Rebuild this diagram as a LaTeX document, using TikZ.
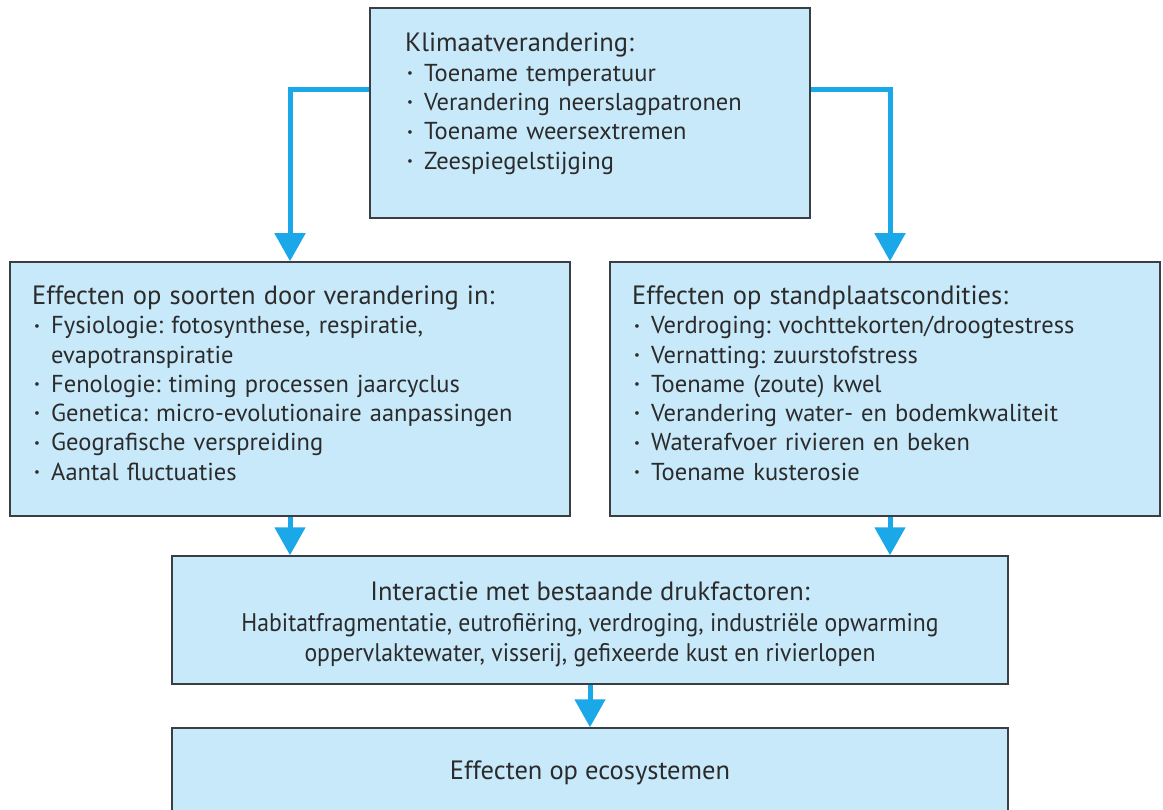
\documentclass[tikz,border=0pt]{standalone}
\usepackage{fontspec}
\setmainfont{PT Sans}
\usetikzlibrary{positioning, arrows.meta}
\definecolor{boxfill}{HTML}{C8E9FA}
\definecolor{boxline}{HTML}{3A3F44}
\definecolor{flow}{HTML}{1BA8E8}
\definecolor{ink}{HTML}{2B2B2B}
\frenchspacing
\newcommand{\kop}[1]{{\fontsize{26.5}{29}\selectfont #1}}
\newcommand{\bul}[1]{\par\noindent\makebox[19pt][l]{\hspace{2pt}\raisebox{0.3ex}{\fontsize{13}{13}\selectfont\textbullet}}#1}
\newcommand{\verv}[1]{\par\noindent\hspace*{19pt}#1}
\newcommand{\smal}[1]{\scalebox{0.93}[1]{#1}}
\tikzset{
box/.style={draw=boxline, line width=1.5pt, fill=boxfill, rectangle, inner sep=0pt}, % the light blue frames
txt/.style={anchor=north west, inner sep=0pt, align=left, text=ink, font=\fontsize{24.5}{29.3}\selectfont},
flow/.style={draw=flow, line width=5pt, -{Triangle[width=30pt,length=28pt]}}, % the blue arrows
}
\begin{document}
\begin{tikzpicture}[x=1pt, y=-1pt]
\useasboundingbox (0,0) rectangle (1163,810);
% frames
\node[box, minimum width=440, minimum height=210] (klimaat) at (590,113) {};
\node[box, minimum width=560, minimum height=254] (soorten) at (290,389) {};
\node[box, minimum width=550, minimum height=254] (standplaats) at (885,389) {};
\node[box, minimum width=836, minimum height=128] (druk) at (590,620) {};
\node[box, minimum width=836, minimum height=92] (eco) at (590,774) {};
% texts
\node[txt, text width=400] (klimaattekst) at (405,33) {\kop{Klimaatverandering:}
  \bul{Toename temperatuur}
  \bul{Verandering neerslagpatronen}
  \bul{Toename weersextremen}
  \bul{Zeespiegelstijging}};
\node[txt, text width=530] (soortentekst) at (32,285.5) {\kop{Effecten op soorten door verandering in:}
  \bul{Fysiologie: fotosynthese, respiratie,}
  \verv{evapotranspiratie}
  \bul{Fenologie: timing processen jaarcyclus}
  \bul{Genetica: micro-evolutionaire aanpassingen}
  \bul{Geografische verspreiding}
  \bul{Aantal fluctuaties}};
\node[txt, text width=520] (standplaatstekst) at (632,285.5) {\kop{Effecten op standplaatscondities:}
  \bul{Verdroging: vochttekorten/droogtestress}
  \bul{Vernatting: zuurstofstress}
  \bul{Toename (zoute) kwel}
  \bul{Verandering water- en bodemkwaliteit}
  \bul{Waterafvoer rivieren en beken}
  \bul{Toename kusterosie}};
\node[txt, anchor=north, align=center, font=\fontsize{25.5}{30.5}\selectfont] (druktekst) at (590,582) {\kop{Interactie met bestaande drukfactoren:}\\
  \smal{Habitatfragmentatie, eutrofiëring, verdroging, industriële opwarming}\\
  \smal{oppervlaktewater, visserij, gefixeerde kust en rivierlopen}};
\node[txt, anchor=center] (ecotekst) at (590,773) {\kop{Effecten op ecosystemen}};
% arrows
\draw[flow] ([yshift=23pt]klimaat.west) -| (soorten.north);
\draw[flow] ([yshift=23pt]klimaat.east) -| ([xshift=5pt]standplaats.north);
\draw[flow] (soorten.south) -- (soorten.south |- druk.north);
\draw[flow] ([xshift=5pt]standplaats.south) -- ([xshift=5pt]standplaats.south |- druk.north);
\draw[flow] (druk.south) -- (eco.north);
\end{tikzpicture}
\end{document}
